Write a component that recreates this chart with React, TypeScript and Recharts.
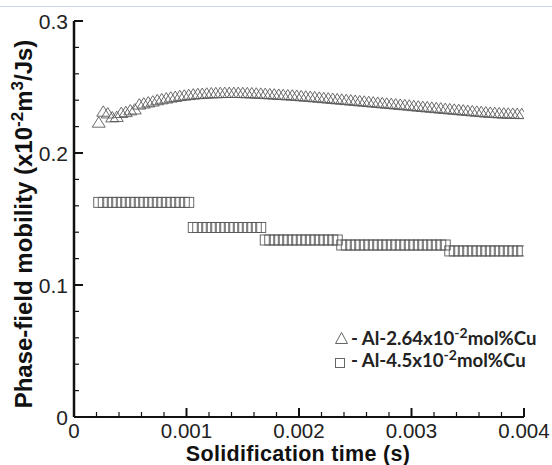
import React from 'react';
import { ScatterChart, Scatter, XAxis, YAxis } from 'recharts';

// Solidification time (s)
const times = [
  0.00022, 0.00026, 0.0003, 0.00034, 0.00038, 0.00042, 0.00046, 0.0005, 0.00054, 0.00058,
  0.00062, 0.00066, 0.0007, 0.00074, 0.00078, 0.00082, 0.00086, 0.0009, 0.00094, 0.00098,
  0.00102, 0.00106, 0.0011, 0.00114, 0.00118, 0.00122, 0.00126, 0.0013, 0.00134, 0.00138,
  0.00142, 0.00146, 0.0015, 0.00154, 0.00158, 0.00162, 0.00166, 0.0017, 0.00174, 0.00178,
  0.00182, 0.00186, 0.0019, 0.00194, 0.00198, 0.00202, 0.00206, 0.0021, 0.00214, 0.00218,
  0.00222, 0.00226, 0.0023, 0.00234, 0.00238, 0.00242, 0.00246, 0.0025, 0.00254, 0.00258,
  0.00262, 0.00266, 0.0027, 0.00274, 0.00278, 0.00282, 0.00286, 0.0029, 0.00294, 0.00298,
  0.00302, 0.00306, 0.0031, 0.00314, 0.00318, 0.00322, 0.00326, 0.0033, 0.00334, 0.00338,
  0.00342, 0.00346, 0.0035, 0.00354, 0.00358, 0.00362, 0.00366, 0.0037, 0.00374, 0.00378,
  0.00382, 0.00386, 0.0039, 0.00394, 0.00398,
];

// Al-2.64x10^-2 mol%Cu (triangles)
const mobilityAl264 = [
  0.2235, 0.2318, 0.2305, 0.2275, 0.2278, 0.2308, 0.2315, 0.2328, 0.2335, 0.2372,
  0.238, 0.2388, 0.2395, 0.2405, 0.2412, 0.2418, 0.2425, 0.243, 0.2436, 0.244,
  0.2444, 0.2448, 0.2451, 0.2453, 0.2455, 0.2457, 0.2458, 0.2459, 0.246, 0.246,
  0.246, 0.246, 0.2459, 0.2458, 0.2457, 0.2455, 0.2454, 0.2452, 0.245, 0.2448,
  0.2446, 0.2444, 0.2442, 0.244, 0.2438, 0.2435, 0.2432, 0.243, 0.2427, 0.2424,
  0.2421, 0.2418, 0.2415, 0.2412, 0.2409, 0.2406, 0.2403, 0.24, 0.2397, 0.2394,
  0.2391, 0.2388, 0.2385, 0.2382, 0.2379, 0.2376, 0.2373, 0.237, 0.2367, 0.2364,
  0.236, 0.2357, 0.2354, 0.2351, 0.2348, 0.2345, 0.2342, 0.2339, 0.2336, 0.2333,
  0.233, 0.2327, 0.2324, 0.2321, 0.2318, 0.2315, 0.2312, 0.231, 0.2308, 0.2306,
  0.2304, 0.2303, 0.2302, 0.2301, 0.23,
];

// Al-4.5x10^-2 mol%Cu (squares)
const mobilityAl45 = [
  0.1626, 0.1626, 0.1626, 0.1626, 0.1626, 0.1626, 0.1626, 0.1626, 0.1626, 0.1626,
  0.1626, 0.1626, 0.1626, 0.1626, 0.1626, 0.1626, 0.1626, 0.1626, 0.1626, 0.1626,
  0.1626, 0.1436, 0.1436, 0.1436, 0.1436, 0.1436, 0.1436, 0.1436, 0.1436, 0.1436,
  0.1436, 0.1436, 0.1436, 0.1436, 0.1436, 0.1436, 0.1436, 0.1341, 0.1341, 0.1341,
  0.1341, 0.1341, 0.1341, 0.1341, 0.1341, 0.1341, 0.1341, 0.1341, 0.1341, 0.1341,
  0.1341, 0.1341, 0.1341, 0.1341, 0.1303, 0.1303, 0.1303, 0.1303, 0.1303, 0.1303,
  0.1303, 0.1303, 0.1303, 0.1303, 0.1303, 0.1303, 0.1303, 0.1303, 0.1303, 0.1303,
  0.1303, 0.1303, 0.1303, 0.1303, 0.1303, 0.1303, 0.1303, 0.1303, 0.1258, 0.1258,
  0.1258, 0.1258, 0.1258, 0.1258, 0.1258, 0.1258, 0.1258, 0.1258, 0.1258, 0.1258,
  0.1258, 0.1258, 0.1258, 0.1258, 0.1258,
];

const xTicks = [
  0, 0.0002, 0.0004, 0.0006, 0.0008, 0.001, 0.0012, 0.0014, 0.0016, 0.0018, 0.002,
  0.0022, 0.0024, 0.0026, 0.0028, 0.003, 0.0032, 0.0034, 0.0036, 0.0038, 0.004,
];
const xTickLabels = ['0', '0.001', '0.002', '0.003', '0.004'];
const yTicks = [
  0, 0.02, 0.04, 0.06, 0.08, 0.1, 0.12, 0.14, 0.16, 0.18, 0.2,
  0.22, 0.24, 0.26, 0.28, 0.3,
];
const yTickLabels = ['0', '0.1', '0.2', '0.3'];

const seriesNames = ['Al-2.64x10', 'Al-4.5x10'];

const triData = times.map((t, i) => ({ t, m: mobilityAl264[i] }));
const sqData = times.map((t, i) => ({ t, m: mobilityAl45[i] }));

const SYM = '#5a5a5a';
const FONT = '"Liberation Sans", Arial, sans-serif';

const Triangle = (props: any) => {
  const { cx, cy } = props;
  if (cx == null || cy == null) return null;
  const w = 6.5;
  const h = 5.2;
  return (
    <polygon
      points={`${cx - w},${cy + h} ${cx + w},${cy + h} ${cx},${cy - h}`}
      fill="none"
      stroke={SYM}
      strokeWidth={0.9}
    />
  );
};

const Square = (props: any) => {
  const { cx, cy } = props;
  if (cx == null || cy == null) return null;
  return (
    <rect x={cx - 5} y={cy - 5} width={10} height={10} fill="none" stroke={SYM} strokeWidth={0.9} />
  );
};

const XTick = (props: any) => {
  const { x, y, payload } = props;
  const v = payload.value;
  const k = Math.round(v * 1000);
  const major = Math.abs(v * 1000 - k) < 1e-6;
  return (
    <g>
      <line x1={x} x2={x} y1={y} y2={y - (major ? 9 : 5)} stroke="#111" strokeWidth={major ? 2 : 1.2} />
      {major && (
        <text x={x} y={y + 21} textAnchor="middle" fontSize={20.5} fill="#222" fontFamily={FONT}>
          {xTickLabels[k]}
        </text>
      )}
    </g>
  );
};

const YTick = (props: any) => {
  const { x, y, payload } = props;
  const v = payload.value;
  const k = Math.round(v * 10);
  const major = Math.abs(v * 10 - k) < 1e-6;
  return (
    <g>
      <line x1={x} x2={x + (major ? 9 : 5)} y1={y} y2={y} stroke="#111" strokeWidth={major ? 2 : 1.2} />
      {major && (
        <text x={x - 6} y={y + 7.5} textAnchor="end" fontSize={21} fill="#222" fontFamily={FONT}>
          {yTickLabels[k]}
        </text>
      )}
    </g>
  );
};

export default function App() {
  return (
    <div style={{ position: 'absolute', left: 0, top: 0, width: 552, height: 465, background: '#fff', overflow: 'hidden' }}>
      <div style={{ position: 'absolute', left: 0, top: 6, width: 552, height: 1, background: '#c9d8ec' }} />
      <ScatterChart width={552} height={465} margin={{ top: 21, right: 28, bottom: 0, left: 0 }}>
        <XAxis
          type="number"
          dataKey="t"
          domain={[0, 0.004]}
          ticks={xTicks}
          interval={0}
          allowDataOverflow
          height={48}
          tickSize={0}
          tickMargin={0}
          tickLine={false}
          axisLine={{ stroke: '#111', strokeWidth: 2 }}
          tick={<XTick />}
        />
        <YAxis
          type="number"
          dataKey="m"
          domain={[0, 0.3]}
          ticks={yTicks}
          interval={0}
          allowDataOverflow
          width={74}
          tickSize={0}
          tickMargin={0}
          tickLine={false}
          axisLine={{ stroke: '#111', strokeWidth: 2.5 }}
          tick={<YTick />}
        />
        <Scatter name={seriesNames[0]} data={triData} shape={<Triangle />} isAnimationActive={false} />
        <Scatter name={seriesNames[1]} data={sqData} shape={<Square />} isAnimationActive={false} />
      </ScatterChart>
      <svg width={552} height={465} style={{ position: 'absolute', left: 0, top: 0, pointerEvents: 'none' }}>
        <text x={298} y={461} textAnchor="middle" fontSize={21.5} fontWeight="bold" letterSpacing={0.3} fill="#111" fontFamily={FONT}>
          Solidification time (s)
        </text>
        <text
          transform="translate(32,224) rotate(-90)"
          textAnchor="middle"
          fontSize={24}
          fontWeight="bold"
          fill="#111"
          fontFamily={FONT}
        >
          Phase-field mobility (x10
          <tspan dy={-9} fontSize={17}>-2</tspan>
          <tspan dy={9}>m</tspan>
          <tspan dy={-9} fontSize={17}>3</tspan>
          <tspan dy={9}>/Js)</tspan>
        </text>
        <polygon points="335.5,343.5 347.5,343.5 341.5,332.5" fill="none" stroke="#666" strokeWidth={1} />
        <text x={351} y={344.5} fontSize={18.6} fontWeight="bold" fill="#222" fontFamily="Lato, sans-serif">
          {'- ' + seriesNames[0]}
          <tspan dy={-7} fontSize={14}>-2</tspan>
          <tspan dy={7}>mol%Cu</tspan>
        </text>
        <rect x={335.5} y={358.5} width={9} height={9} fill="none" stroke="#666" strokeWidth={1} />
        <text x={351} y={367} fontSize={18.6} fontWeight="bold" fill="#222" fontFamily="Lato, sans-serif">
          {'- ' + seriesNames[1]}
          <tspan dy={-7} fontSize={14}>-2</tspan>
          <tspan dy={7}>mol%Cu</tspan>
        </text>
      </svg>
    </div>
  );
}
